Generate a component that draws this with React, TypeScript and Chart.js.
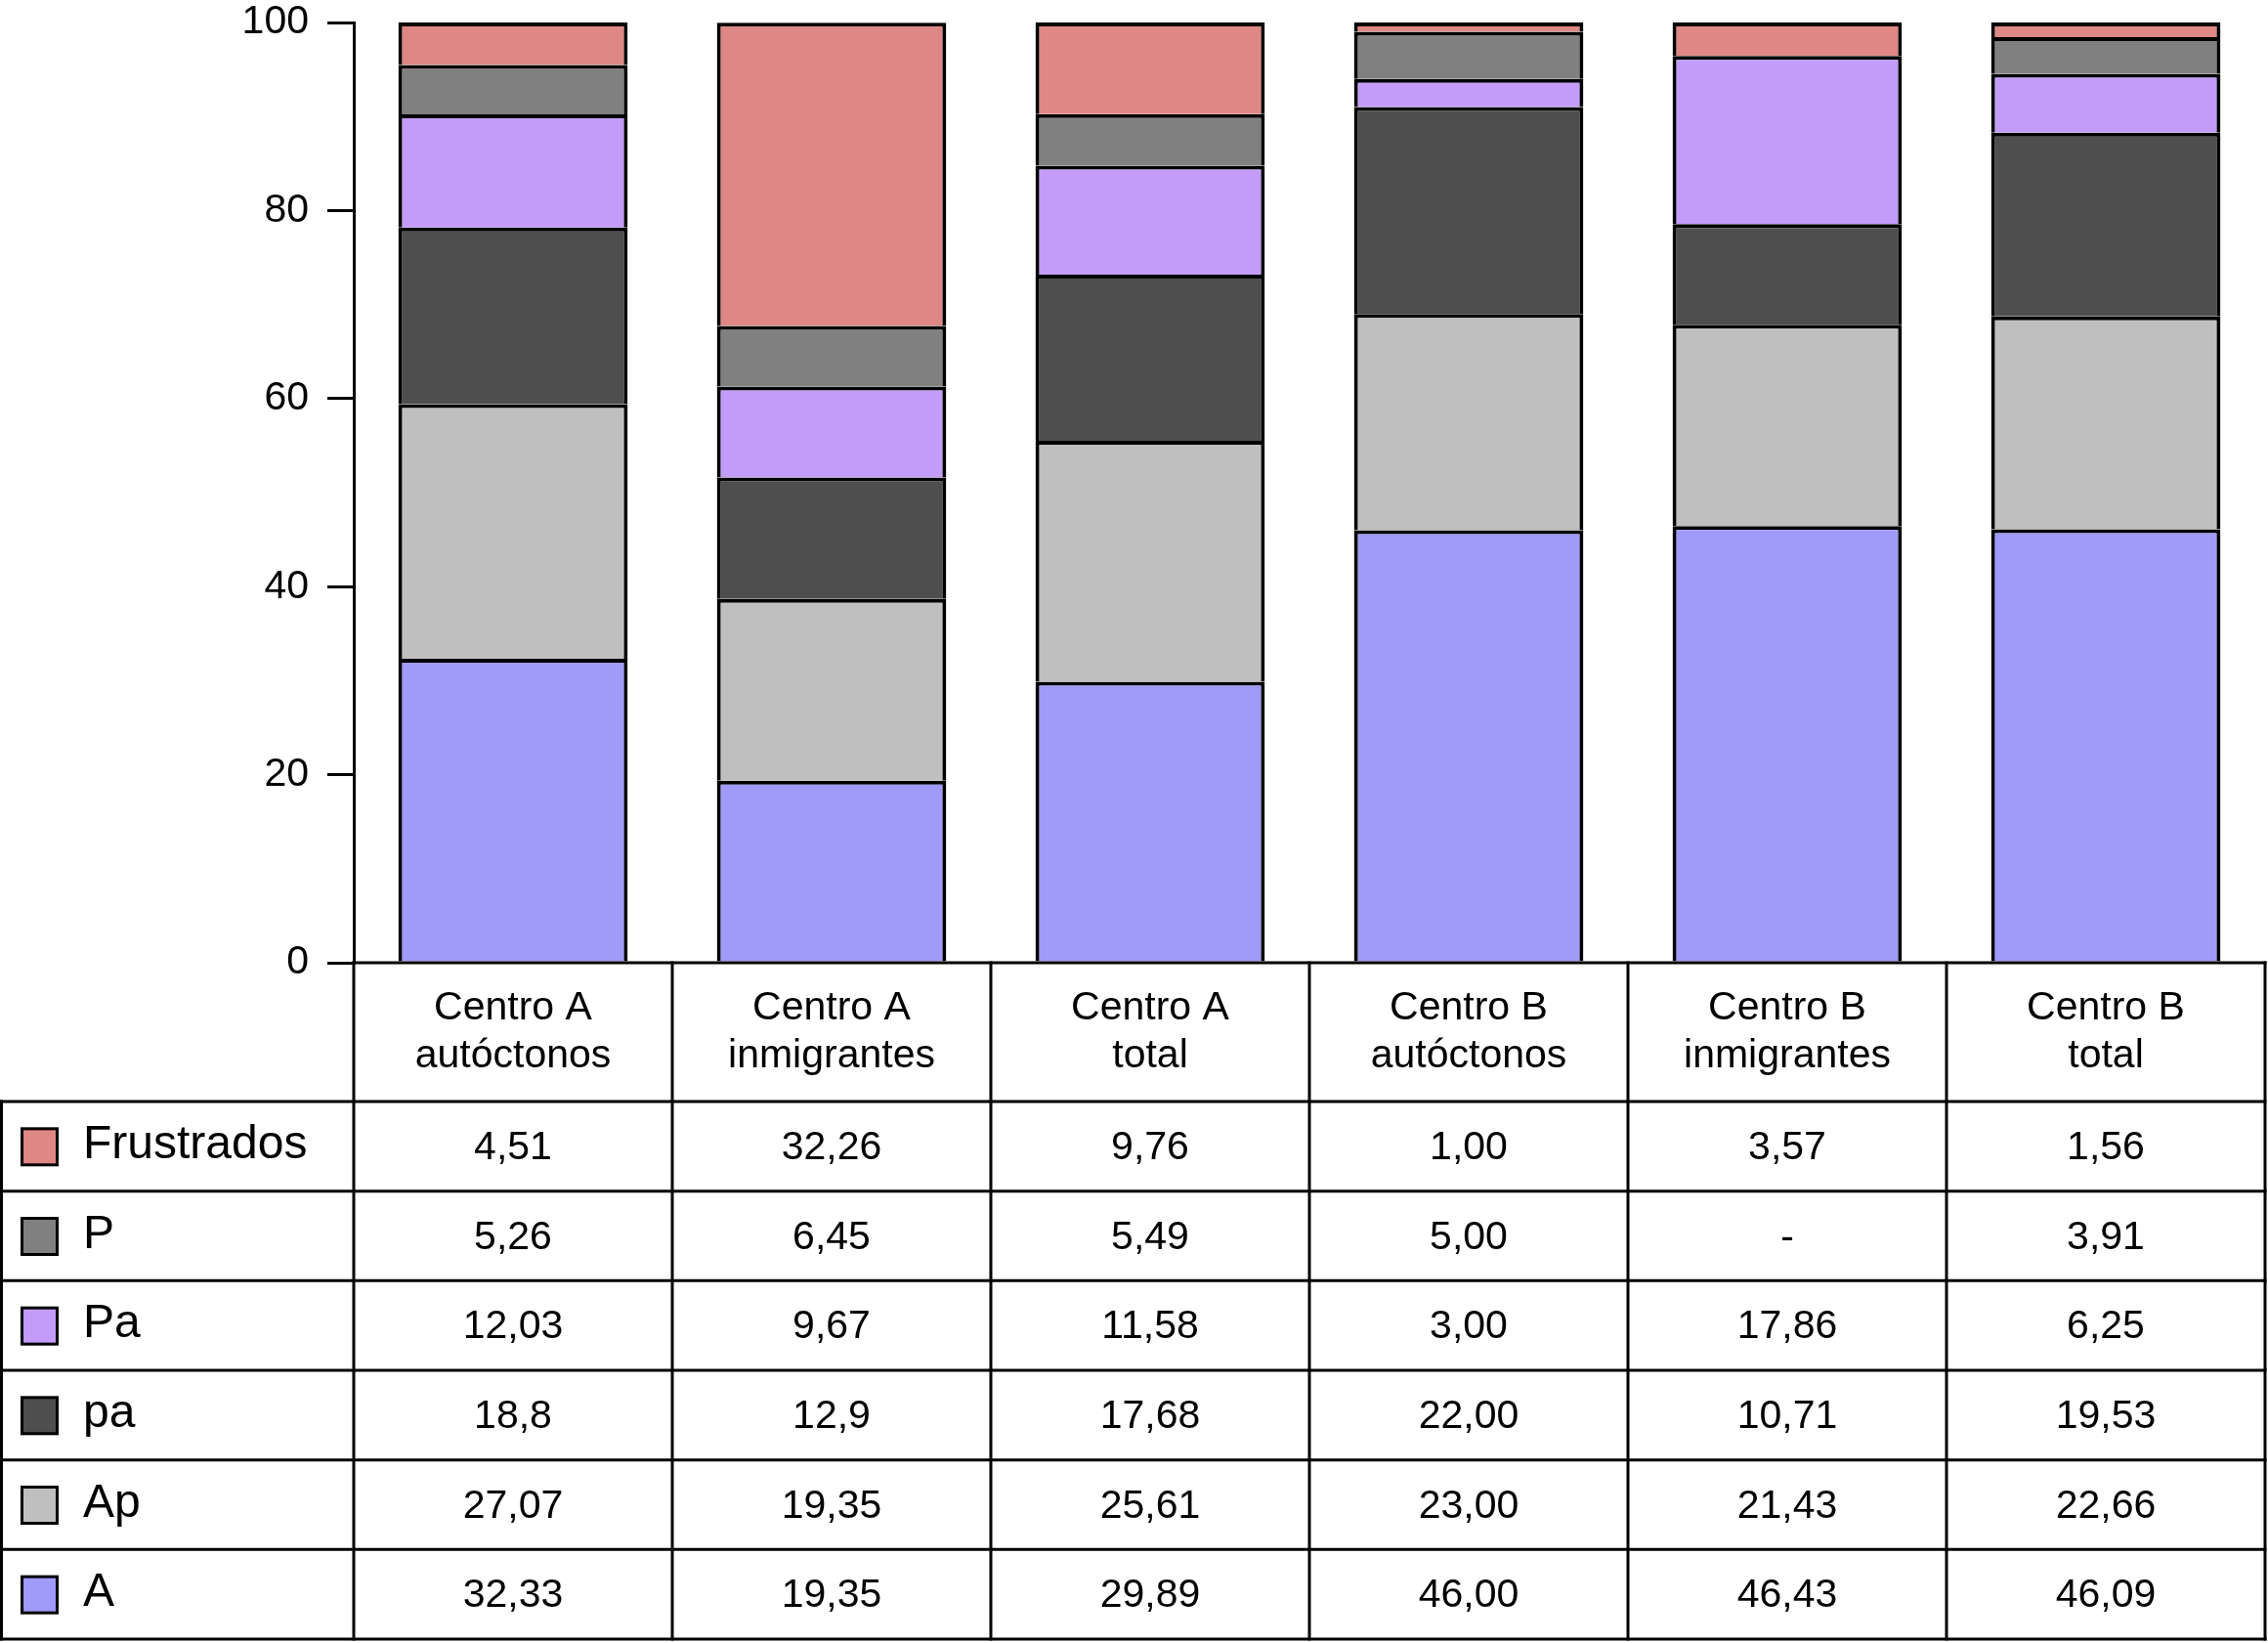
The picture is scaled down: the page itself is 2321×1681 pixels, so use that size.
import React, { useEffect, useRef } from "react";
import { Chart, registerables } from "chart.js";

Chart.register(...registerables);

// ---------- data ----------
const categories: string[][] = [
  ["Centro A", "autóctonos"],
  ["Centro A", "inmigrantes"],
  ["Centro A", "total"],
  ["Centro B", "autóctonos"],
  ["Centro B", "inmigrantes"],
  ["Centro B", "total"],
];

const frustrados = ["4,51", "32,26", "9,76", "1,00", "3,57", "1,56"];
const pMayus = ["5,26", "6,45", "5,49", "5,00", "-", "3,91"];
const paMayus = ["12,03", "9,67", "11,58", "3,00", "17,86", "6,25"];
const paMinus = ["18,8", "12,9", "17,68", "22,00", "10,71", "19,53"];
const apMayus = ["27,07", "19,35", "25,61", "23,00", "21,43", "22,66"];
const aMayus = ["32,33", "19,35", "29,89", "46,00", "46,43", "46,09"];

const yTicks = [0, 20, 40, 60, 80, 100];

// table rows top -> bottom
const tableRows = [
  { name: "Frustrados", values: frustrados },
  { name: "P", values: pMayus },
  { name: "Pa", values: paMayus },
  { name: "pa", values: paMinus },
  { name: "Ap", values: apMayus },
  { name: "A", values: aMayus },
];

// stacking order bottom -> top
const stackOrder = ["A", "Ap", "pa", "Pa", "P", "Frustrados"];

// ---------- styles ----------
const seriesColor: Record<string, string> = {
  Frustrados: "#DF8784",
  P: "#808080",
  Pa: "#C39CF9",
  pa: "#4E4E4E",
  Ap: "#BFBFBF",
  A: "#A09AF9",
};

const W = 2321;
const H = 1681;
const AXIS_X = 362;
const PLOT_TOP = 23;
const PLOT_BOTTOM = 985;
const PLOT_RIGHT = 2318;
const HEADER_BOTTOM = 1127;
const TABLE_BOTTOM = 1677;
const LINE_W = 3;
const BAR_BORDER = 4;
const FONT_FAMILY = '"Liberation Sans", Arial, Helvetica, sans-serif';
const TABLE_FONT = `41px ${FONT_FAMILY}`;
const LEGEND_FONT = `48px ${FONT_FAMILY}`;

const toNum = (s: string): number | null =>
  s.trim() === "-" ? null : parseFloat(s.replace(",", "."));

const tablePlugin = {
  id: "tablePlugin",
  afterDraw(chart: any) {
    const ctx = chart.ctx as CanvasRenderingContext2D;
    const { left, right, bottom } = chart.chartArea;
    const xs = chart.scales.x;
    const n = categories.length;
    const colW = (right - left) / n;
    const rowH = (TABLE_BOTTOM - HEADER_BOTTOM) / tableRows.length;

    ctx.save();
    ctx.strokeStyle = "#000";
    ctx.lineWidth = LINE_W;
    ctx.lineCap = "square";

    // top line of header (x axis baseline)
    ctx.beginPath();
    ctx.moveTo(left, bottom);
    ctx.lineTo(right, bottom);
    ctx.stroke();

    // vertical column lines
    for (let i = 0; i <= n; i++) {
      const x = left + i * colW;
      ctx.beginPath();
      ctx.moveTo(x, bottom);
      ctx.lineTo(x, TABLE_BOTTOM);
      ctx.stroke();
    }
    // left border of legend column
    ctx.beginPath();
    ctx.moveTo(LINE_W / 2, HEADER_BOTTOM);
    ctx.lineTo(LINE_W / 2, TABLE_BOTTOM);
    ctx.stroke();

    // horizontal row lines
    for (let k = 0; k <= tableRows.length; k++) {
      const y = HEADER_BOTTOM + k * rowH;
      ctx.beginPath();
      ctx.moveTo(LINE_W / 2, y);
      ctx.lineTo(right, y);
      ctx.stroke();
    }

    // header text
    ctx.fillStyle = "#000";
    ctx.font = TABLE_FONT;
    ctx.textAlign = "center";
    ctx.textBaseline = "alphabetic";
    categories.forEach((lines, i) => {
      const cx = xs.getPixelForValue(i);
      ctx.fillText(lines[0], cx, 1043);
      ctx.fillText(lines[1], cx, 1092);
    });

    // rows
    tableRows.forEach((row, k) => {
      const yTop = HEADER_BOTTOM + k * rowH;
      const cy = yTop + rowH / 2;
      // swatch
      ctx.lineWidth = LINE_W;
      ctx.fillStyle = seriesColor[row.name];
      ctx.fillRect(22.5, cy - 18, 36, 37);
      ctx.strokeRect(22.5, cy - 18, 36, 37);
      // legend label
      ctx.fillStyle = "#000";
      ctx.font = LEGEND_FONT;
      ctx.textAlign = "left";
      ctx.textBaseline = "alphabetic";
      ctx.fillText(row.name, 85, yTop + 58);
      // values
      ctx.font = TABLE_FONT;
      ctx.textAlign = "center";
      row.values.forEach((v, i) => {
        ctx.fillText(v, xs.getPixelForValue(i), yTop + 59);
      });
    });
    ctx.restore();
  },
};

export default function App() {
  const ref = useRef<HTMLCanvasElement | null>(null);

  useEffect(() => {
    document.body.style.margin = "0";
    const canvas = ref.current;
    if (!canvas) return;

    const datasets = stackOrder.map((name) => {
      const row = tableRows.find((r) => r.name === name)!;
      return {
        label: name,
        data: row.values.map(toNum),
        backgroundColor: seriesColor[name],
        borderColor: "#000",
        borderWidth: BAR_BORDER,
        borderSkipped: "start" as const,
        barPercentage: 0.72,
        categoryPercentage: 1,
      };
    });

    const chart = new Chart(canvas, {
      type: "bar",
      data: {
        labels: categories.map((c) => c.join(" ")),
        datasets,
      },
      options: {
        animation: false,
        responsive: false,
        maintainAspectRatio: false,
        devicePixelRatio: 1,
        layout: {
          padding: {
            left: 0,
            top: PLOT_TOP,
            right: W - PLOT_RIGHT,
            bottom: H - PLOT_BOTTOM,
          },
        },
        plugins: {
          legend: { display: false },
          tooltip: { enabled: false },
        },
        scales: {
          x: {
            display: false,
            stacked: true,
          },
          y: {
            stacked: true,
            min: 0,
            max: 100,
            afterBuildTicks: (scale: any) => {
              scale.ticks = yTicks.map((v) => ({ value: v }));
            },
            afterFit: (scale: any) => {
              scale.width = AXIS_X;
              scale.paddingTop = 0;
              scale.paddingBottom = 0;
            },
            border: { display: true, color: "#000", width: LINE_W },
            grid: {
              drawOnChartArea: false,
              drawTicks: true,
              tickLength: 27,
              color: "#000",
              lineWidth: LINE_W,
            },
            ticks: {
              padding: 19,
              color: "#000",
              font: {
                family: FONT_FAMILY,
                size: 41,
              },
            },
          },
        },
      },
      plugins: [tablePlugin],
    });

    return () => chart.destroy();
  }, []);

  return (
    <div style={{ position: "absolute", left: 0, top: 0, width: W, height: H }}>
      <canvas ref={ref} width={W} height={H} style={{ display: "block", width: W, height: H }} />
    </div>
  );
}
